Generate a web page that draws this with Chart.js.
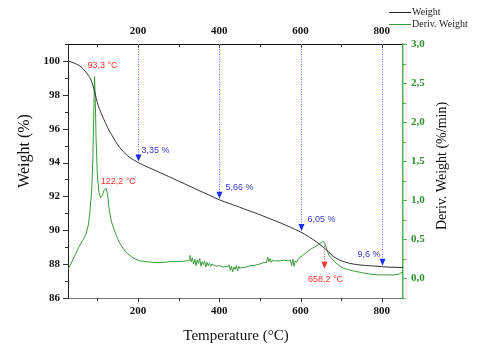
<!DOCTYPE html>
<html>
<head>
<meta charset="utf-8">
<script src="https://cdn.jsdelivr.net/npm/chart.js@4.4.1/dist/chart.umd.min.js"></script>
<style>
  html, body { margin: 0; padding: 0; background: #fff; }
  #wrap { width: 480px; height: 355px; position: relative; }
</style>
</head>
<body>
<div id="wrap"><canvas id="tga" width="480" height="355"></canvas></div>
<script>
// Weight curve (TGA)
const tempW = [28, 40, 50, 60, 70, 78, 85, 90, 95, 100, 110, 120, 130, 140, 150, 160, 170, 180, 190, 200,
  225, 250, 275, 300, 325, 350, 375, 400, 425, 450, 475, 500, 525, 550, 575, 600, 620, 640, 655, 670,
  680, 690, 700, 720, 740, 760, 780, 800, 820, 852];
const weight = [100.0, 99.9, 99.8, 99.65, 99.4, 99.15, 98.85, 98.5, 98.05, 97.55, 96.9, 96.35, 95.85, 95.45, 95.05, 94.75, 94.5, 94.3, 94.15, 94.0,
  93.72, 93.45, 93.18, 92.9, 92.63, 92.35, 92.08, 91.8, 91.58, 91.36, 91.14, 90.92, 90.68, 90.44, 90.18, 89.9, 89.62, 89.3, 89.02, 88.7,
  88.47, 88.32, 88.2, 88.05, 87.97, 87.92, 87.89, 87.85, 87.82, 87.8];

// Derivative curve (DTG)
const tempD = [28, 35, 45, 55, 65, 72, 78, 82, 86, 89, 91, 93.3, 95, 97, 100, 104, 108, 112, 117, 122,
  126, 130, 135, 140, 148, 155, 165, 175, 185, 195, 205, 220, 240, 260, 280, 300, 320, 326, 328, 331,
  334, 337, 340, 343, 346, 349, 352, 355, 358, 361, 364, 367, 370, 373, 376, 379, 382, 385, 390, 395,
  400, 405, 410, 415, 420, 424, 427, 430, 433, 436, 439, 442, 445, 448, 451, 454, 458, 466, 472, 478,
  485, 492, 500, 510, 516, 519, 522, 525, 528, 531, 535, 540, 550, 560, 570, 575, 578, 581, 584, 587,
  590, 595, 605, 615, 625, 635, 645, 652, 656, 660, 665, 670, 675, 682, 690, 700, 715, 730, 750, 770,
  790, 810, 830, 842, 852];
const deriv = [0.11, 0.18, 0.29, 0.40, 0.49, 0.56, 0.68, 0.85, 1.10, 1.5, 2.0, 2.58, 2.3, 1.8, 1.35, 1.1, 1.03, 1.05, 1.13, 1.15,
  1.05, 0.85, 0.72, 0.64, 0.53, 0.45, 0.37, 0.31, 0.27, 0.24, 0.22, 0.21, 0.20, 0.20, 0.21, 0.21, 0.22, 0.23, 0.29, 0.21,
  0.26, 0.18, 0.24, 0.16, 0.23, 0.19, 0.25, 0.15, 0.21, 0.17, 0.22, 0.14, 0.20, 0.16, 0.19, 0.15, 0.18, 0.17, 0.16, 0.15,
  0.16, 0.15, 0.14, 0.15, 0.14, 0.17, 0.10, 0.15, 0.08, 0.14, 0.11, 0.16, 0.09, 0.15, 0.12, 0.14, 0.13, 0.14, 0.15, 0.16,
  0.16, 0.17, 0.18, 0.20, 0.20, 0.27, 0.21, 0.25, 0.20, 0.23, 0.22, 0.22, 0.22, 0.23, 0.22, 0.23, 0.16, 0.24, 0.15, 0.22,
  0.20, 0.25, 0.29, 0.33, 0.37, 0.40, 0.43, 0.46, 0.47, 0.44, 0.36, 0.29, 0.26, 0.22, 0.18, 0.14, 0.11, 0.09, 0.07, 0.05,
  0.04, 0.04, 0.04, 0.05, 0.08];

// Weight-loss markers and peak labels
const markTemps = [200, 400, 600, 800];
const markLabels = ['3,35 %', '5,66 %', '6,05 %', '9,6 %'];
const peakTemps = [93.3, 122.2, 658.2];
const peakLabels = ['93,3 °C', '122,2 °C', '658,2 °C'];

const xTicks = [200, 400, 600, 800];

const GREEN = '#3a9a3a';
const AXIS_GREEN = '#55b055';
const SERIF = '"Liberation Serif", "Times New Roman", serif';
const SANS = '"Liberation Sans", Arial, sans-serif';

function interp(xs, ys, x) {
  for (let i = 1; i < xs.length; i++) {
    if (x <= xs[i]) {
      const t = (x - xs[i - 1]) / (xs[i] - xs[i - 1]);
      return ys[i - 1] + t * (ys[i] - ys[i - 1]);
    }
  }
  return ys[ys.length - 1];
}

function arrowHead(ctx, x, y, color) {
  ctx.fillStyle = color;
  ctx.beginPath();
  ctx.moveTo(x, y);
  ctx.lineTo(x - 3, y - 7);
  ctx.lineTo(x + 3, y - 7);
  ctx.closePath();
  ctx.fill();
}

// ticks, titles, legend and annotations
const decorPlugin = {
  id: 'decor',
  afterDatasetsDraw(chart) {
    const ctx = chart.ctx;
    const a = chart.chartArea;
    const sx = chart.scales.x, sy = chart.scales.y, sy1 = chart.scales.y1;
    ctx.save();

    // tick marks
    ctx.lineWidth = 1;
    ctx.strokeStyle = '#333';
    ctx.beginPath();
    for (let v = 100; v <= 800; v += 100) {
      const px = Math.round(sx.getPixelForValue(v)) + 0.5;
      const len = v % 200 === 0 ? 4 : 3;
      ctx.moveTo(px, a.bottom); ctx.lineTo(px, a.bottom + len);
      ctx.moveTo(px, a.top); ctx.lineTo(px, a.top + len);
    }
    for (let v = 86; v <= 101; v += 1) {
      const py = Math.round(sy.getPixelForValue(v)) + 0.5;
      const len = v % 2 === 0 ? 5 : 3;
      ctx.moveTo(a.left, py); ctx.lineTo(a.left - len, py);
    }
    ctx.stroke();
    ctx.strokeStyle = AXIS_GREEN;
    ctx.beginPath();
    for (let v = -0.25; v <= 3.0; v += 0.25) {
      const py = Math.round(sy1.getPixelForValue(v)) + 0.5;
      const len = Math.abs(v * 2 - Math.round(v * 2)) < 0.01 ? 4 : 3;
      ctx.moveTo(a.right, py); ctx.lineTo(a.right + len, py);
    }
    ctx.stroke();

    // weight-loss arrows
    ctx.font = '9px ' + SANS;
    ctx.textBaseline = 'middle';
    markTemps.forEach((t, i) => {
      const px = Math.round(sx.getPixelForValue(t)) + 0.5;
      const tipY = sy.getPixelForValue(interp(tempW, weight, t)) - 1;
      ctx.strokeStyle = '#5868f4';
      ctx.setLineDash([1, 1.5]);
      ctx.beginPath();
      ctx.moveTo(px, a.top);
      ctx.lineTo(px, tipY - 6);
      ctx.stroke();
      ctx.setLineDash([]);
      arrowHead(ctx, px, tipY, '#1a2cf0');
      ctx.fillStyle = '#3838c8';
      if (i === markTemps.length - 1) {
        ctx.textAlign = 'right';
        ctx.fillText(markLabels[i], px - 2, tipY - 11);
      } else {
        ctx.textAlign = 'left';
        ctx.fillText(markLabels[i], px + (i === 0 ? 3 : 6), tipY - 11);
      }
    });

    // peak labels
    ctx.fillStyle = '#ff3030';
    ctx.textAlign = 'center';
    const p0x = sx.getPixelForValue(peakTemps[0]);
    const p0y = sy1.getPixelForValue(interp(tempD, deriv, peakTemps[0]));
    ctx.fillText(peakLabels[0], p0x + 8, p0y - 11);
    const p1x = sx.getPixelForValue(peakTemps[1]);
    const p1y = sy1.getPixelForValue(interp(tempD, deriv, peakTemps[1]));
    ctx.fillText(peakLabels[1], p1x + 12, p1y - 7);
    const p2x = Math.round(sx.getPixelForValue(peakTemps[2])) + 0.5;
    const p2y = sy1.getPixelForValue(interp(tempD, deriv, peakTemps[2]));
    ctx.strokeStyle = '#ff4040';
    ctx.setLineDash([1, 1.5]);
    ctx.beginPath();
    ctx.moveTo(p2x, p2y + 1);
    ctx.lineTo(p2x, p2y + 20);
    ctx.stroke();
    ctx.setLineDash([]);
    arrowHead(ctx, p2x, p2y + 26, '#ff3030');
    ctx.fillStyle = '#ff3030';
    ctx.fillText(peakLabels[2], p2x + 1, p2y + 37);

    // axis titles
    ctx.fillStyle = '#111';
    ctx.font = '16px ' + SERIF;
    ctx.textAlign = 'center';
    ctx.textBaseline = 'middle';
    ctx.save();
    ctx.translate(25, 151);
    ctx.rotate(-Math.PI / 2);
    ctx.fillText('Weight (%)', 0, 0);
    ctx.restore();
    ctx.save();
    ctx.font = '14px ' + SERIF;
    ctx.translate(442, 166);
    ctx.rotate(-Math.PI / 2);
    ctx.fillText('Deriv. Weight (%/min)', 0, 0);
    ctx.restore();
    ctx.font = '15px ' + SERIF;
    ctx.fillText('Temperature (°C)', 236, 336);

    // legend
    ctx.lineWidth = 1;
    ctx.strokeStyle = '#222';
    ctx.beginPath(); ctx.moveTo(389, 12.5); ctx.lineTo(411, 12.5); ctx.stroke();
    ctx.strokeStyle = GREEN;
    ctx.beginPath(); ctx.moveTo(389, 24.5); ctx.lineTo(411, 24.5); ctx.stroke();
    ctx.fillStyle = '#222';
    ctx.font = '10px ' + SERIF;
    ctx.textAlign = 'left';
    ctx.fillText('Weight', 412, 12);
    ctx.fillText('Deriv. Weight', 412, 24);

    ctx.restore();
  }
};

const tickFont = { family: SERIF, size: 11, weight: 'bold' };

new Chart(document.getElementById('tga'), {
  type: 'line',
  data: {
    datasets: [{
      label: 'Weight',
      data: tempW.map((t, i) => ({ x: t, y: weight[i] })),
      borderColor: '#333',
      borderWidth: 1,
      pointRadius: 0,
      cubicInterpolationMode: 'monotone',
      yAxisID: 'y'
    }, {
      label: 'Deriv. Weight',
      data: tempD.map((t, i) => ({ x: t, y: deriv[i] })),
      borderColor: GREEN,
      borderWidth: 1,
      pointRadius: 0,
      tension: 0,
      yAxisID: 'y1'
    }]
  },
  options: {
    responsive: false,
    animation: false,
    layout: { padding: 0 },
    plugins: { legend: { display: false }, tooltip: { enabled: false } },
    scales: {
      x: {
        type: 'linear', position: 'bottom', min: 28, max: 852,
        afterFit: s => { s.height = 57; },
        afterBuildTicks: s => { s.ticks = xTicks.map(v => ({ value: v })); },
        grid: { display: false, drawTicks: false },
        border: { display: true, color: '#777', width: 1 },
        ticks: { font: tickFont, color: '#111', padding: 7, maxRotation: 0 }
      },
      x2: {
        type: 'linear', position: 'top', min: 28, max: 852,
        afterFit: s => { s.height = 44; },
        afterBuildTicks: s => { s.ticks = xTicks.map(v => ({ value: v })); },
        grid: { display: false, drawTicks: false },
        border: { display: true, color: '#111', width: 1 },
        ticks: { font: tickFont, color: '#111', padding: 6, maxRotation: 0 }
      },
      y: {
        position: 'left', min: 86, max: 101,
        afterFit: s => { s.width = 68; },
        grid: { display: false, drawTicks: false },
        border: { display: true, color: '#222', width: 1 },
        ticks: { stepSize: 2, includeBounds: false, font: tickFont, color: '#111', padding: 8 }
      },
      y1: {
        position: 'right', min: -0.256, max: 3.0,
        afterFit: s => { s.width = 77; },
        grid: { display: false, drawTicks: false },
        border: { display: true, color: AXIS_GREEN, width: 1.5 },
        ticks: {
          stepSize: 0.5, includeBounds: false, font: tickFont, color: '#2f8f2f', padding: 8,
          callback: v => v.toFixed(1).replace('.', ',')
        }
      }
    }
  },
  plugins: [decorPlugin]
});
</script>
</body>
</html>
